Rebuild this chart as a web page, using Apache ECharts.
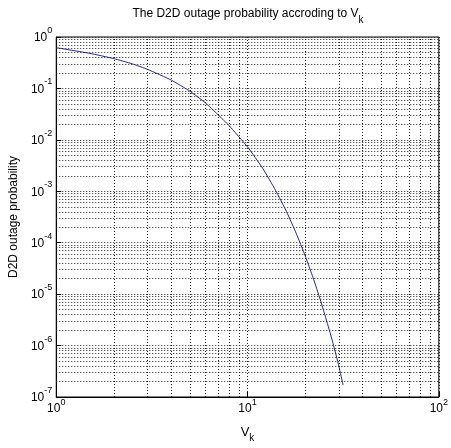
<!DOCTYPE html>
<html>
<head>
<meta charset="utf-8">
<script src="https://cdn.jsdelivr.net/npm/echarts@6/dist/echarts.min.js"></script>
<style>html,body{margin:0;padding:0;background:#fff}#c{width:451px;height:448px}</style>
</head>
<body>
<div id="c"></div>
<script>
// Data
var vk = [1, 1.5, 2, 2.5, 3, 4, 5, 6, 7, 8, 10, 12, 14, 16, 18, 20, 22, 24, 26, 28, 30, 31.6];
var outage = [0.62, 0.48, 0.38, 0.30, 0.235, 0.145, 0.088, 0.053, 0.031, 0.019, 0.0073, 0.0028, 0.00105, 4.0e-4, 1.5e-4, 5.6e-5, 2.1e-5, 7.8e-6, 2.9e-6, 1.1e-6, 4.0e-7, 1.7e-7];
var xDecades = [0, 1];          // exponents of x decades with minor grid
var yDecades = [-7, -6, -5, -4, -3, -2, -1];
var minorSteps = [2, 3, 4, 5, 6, 7, 8, 9];
var titleText = 'The D2D outage probability accroding to V';
var xName = 'V';
var yName = 'D2D outage probability';

var FONT = "'Liberation Sans',Arial,sans-serif";
var X_MIN = 1, X_MAX = 100, Y_MIN = 1e-7, Y_MAX = 1;
var chart = echarts.init(document.getElementById('c'), null, {renderer: 'canvas'});

var gridStyle = {color: '#222', width: 1, type: [1, 2]};
var minorLines = [];
xDecades.forEach(function (d) {
  minorSteps.forEach(function (m) {
    var v = m * Math.pow(10, d);
    minorLines.push([{coord: [v, Y_MIN]}, {coord: [v, Y_MAX]}]);
  });
});
yDecades.forEach(function (d) {
  minorSteps.forEach(function (m) {
    var v = m * Math.pow(10, d);
    minorLines.push([{coord: [X_MIN, v]}, {coord: [X_MAX, v]}]);
  });
});

function expLabel(v) {
  var e = Math.round(Math.log(v) / Math.LN10);
  return '{b|10}{e|' + e + '}';
}
var yRich = {
  b: {fontSize: 12, fontFamily: FONT, color: '#000', lineHeight: 11, padding: [6, 0, 4, 0]},
  e: {fontSize: 9, fontFamily: FONT, color: '#000', lineHeight: 8, padding: [0, 0, 13, 0]}
};
var xRich = {
  b: {fontSize: 12, fontFamily: FONT, color: '#000', lineHeight: 11, padding: [5, 0, 0, 0]},
  e: {fontSize: 9, fontFamily: FONT, color: '#000', lineHeight: 8, padding: [0, 0, 8, 0]}
};

var pts = vk.map(function (x, i) { return [x, outage[i]]; });

chart.setOption({
  animation: false,
  backgroundColor: '#fff',
  grid: {left: 50, right: 8, top: 37, bottom: 46, show: true, borderColor: '#000', borderWidth: 1},
  graphic: [{
    type: 'text', x: 248, y: 8,
    style: {
      text: '{t|' + titleText + '}{s|k}',
      align: 'center',
      rich: {
        t: {fontSize: 12, fontFamily: FONT, color: '#000', lineHeight: 16, padding: [0, 0, 4, 0]},
        s: {fontSize: 10, fontFamily: FONT, color: '#000', lineHeight: 12, padding: [8, 0, 0, 0]}
      }
    }
  }],
  xAxis: {
    type: 'log', logBase: 10, min: X_MIN, max: X_MAX,
    axisLine: {show: true, lineStyle: {color: '#000', width: 1}},
    axisTick: {show: true, inside: true, length: 5, lineStyle: {color: '#000'}},
    axisLabel: {formatter: expLabel, margin: 4, rich: xRich},
    splitLine: {show: true, lineStyle: gridStyle},
    name: '{v|' + xName + '}{s|k}',
    nameLocation: 'middle', nameGap: 29,
    nameTextStyle: {
      rich: {
        v: {fontSize: 13, fontFamily: FONT, color: '#000', lineHeight: 16, padding: [0, 0, 4, 0]},
        s: {fontSize: 10, fontFamily: FONT, color: '#000', lineHeight: 12, padding: [8, 0, 0, 0]}
      }
    }
  },
  yAxis: {
    type: 'log', logBase: 10, min: Y_MIN, max: Y_MAX, splitNumber: 7,
    axisLine: {show: true, lineStyle: {color: '#000', width: 1}},
    axisTick: {show: true, inside: true, length: 5, lineStyle: {color: '#000'}},
    axisLabel: {formatter: expLabel, margin: 4, rich: yRich},
    splitLine: {show: true, lineStyle: gridStyle},
    name: yName, nameLocation: 'middle', nameGap: 36,
    nameTextStyle: {fontSize: 12, fontFamily: FONT, color: '#000'}
  },
  series: [{
    type: 'line',
    data: pts,
    showSymbol: false,
    smooth: 0.15,
    lineStyle: {color: '#26268f', width: 1},
    itemStyle: {color: '#26268f'},
    markLine: {
      silent: true, symbol: 'none', animation: false,
      label: {show: false},
      lineStyle: gridStyle,
      emphasis: {disabled: true},
      data: minorLines
    }
  }]
});
</script>
</body>
</html>
